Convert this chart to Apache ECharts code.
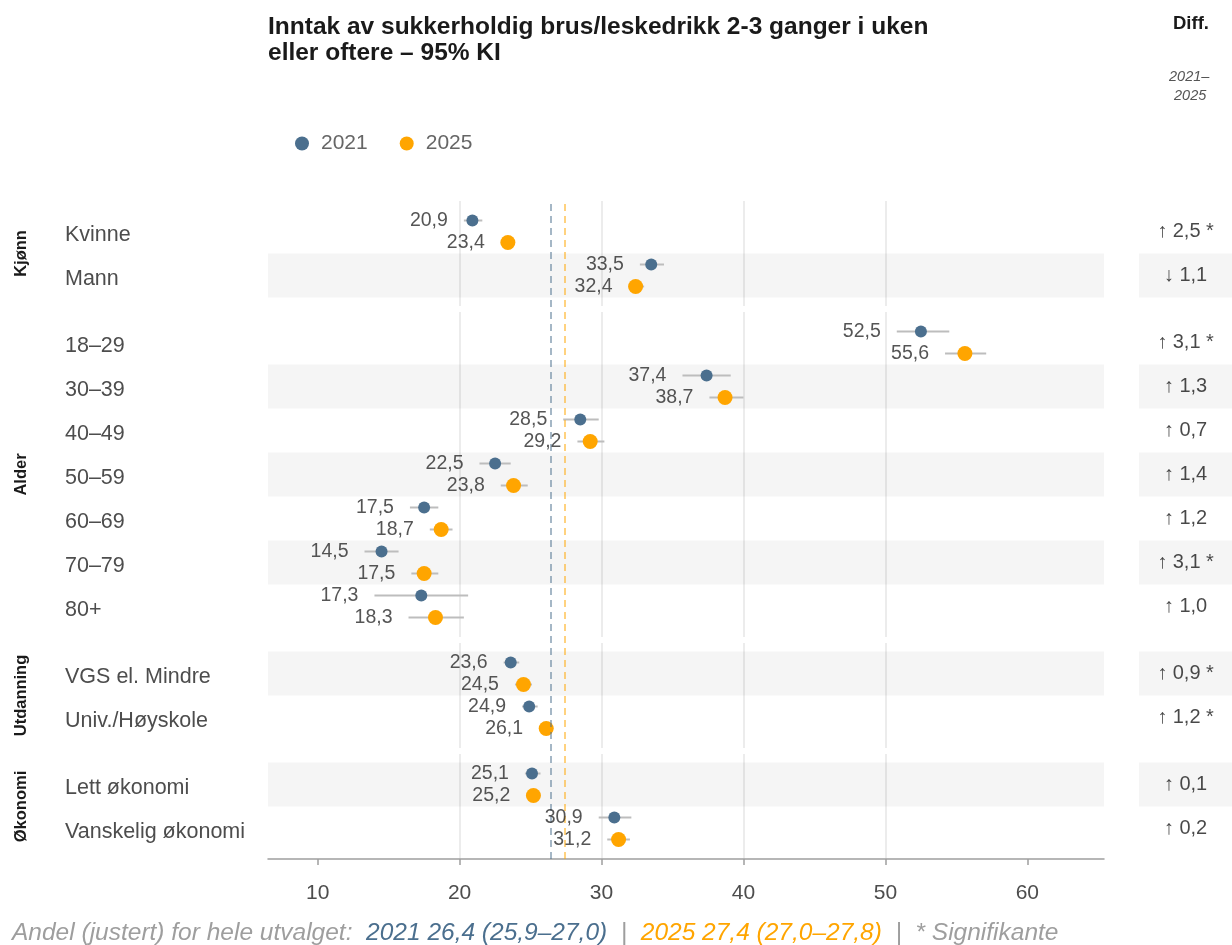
<!DOCTYPE html>
<html>
<head>
<meta charset="utf-8">
<script src="https://cdn.jsdelivr.net/npm/echarts@6/dist/echarts.min.js"></script>
<style>
  html, body { margin: 0; padding: 0; background: #fff; }
  #main { width: 1232px; height: 945px; }
</style>
</head>
<body>
<div id="main"></div>
<script>
// grupper og kategorier
var groups = ['Kjønn', 'Alder', 'Utdanning', 'Økonomi'];
var groupCats = [
    ['Kvinne', 'Mann'],
    ['18–29', '30–39', '40–49', '50–59', '60–69', '70–79', '80+'],
    ['VGS el. Mindre', 'Univ./Høyskole'],
    ['Lett økonomi', 'Vanskelig økonomi']
];
// rader med grå bakgrunn (indeks innen gruppen)
var shadedRows = [[1], [1, 3, 5], [0], [0]];

// andeler og 95% KI, alle rader i rekkefølge
var val2021 = [20.9, 33.5, 52.5, 37.4, 28.5, 22.5, 17.5, 14.5, 17.3, 23.6, 24.9, 25.1, 30.9];
var lo2021  = [20.3, 32.7, 50.8, 35.7, 27.3, 21.4, 16.5, 13.3, 14.0, 23.1, 24.4, 24.6, 29.8];
var hi2021  = [21.6, 34.4, 54.5, 39.1, 29.8, 23.6, 18.5, 15.7, 20.6, 24.2, 25.5, 25.7, 32.1];
var val2025 = [23.4, 32.4, 55.6, 38.7, 29.2, 23.8, 18.7, 17.5, 18.3, 24.5, 26.1, 25.2, 31.2];
var lo2025  = [22.9, 31.9, 54.2, 37.6, 28.3, 22.9, 17.9, 16.6, 16.4, 23.9, 25.6, 24.7, 30.4];
var hi2025  = [23.9, 33.0, 57.1, 40.0, 30.2, 24.8, 19.5, 18.5, 20.3, 25.1, 26.6, 25.7, 32.0];
var diffVals = [2.5, -1.1, 3.1, 1.3, 0.7, 1.4, 1.2, 3.1, 1.0, 0.9, 1.2, 0.1, 0.2];
var diffSig  = [1, 0, 1, 0, 0, 0, 0, 1, 0, 1, 1, 0, 0];

// hele utvalget (referanselinjer)
var total2021 = 26.4, total2025 = 27.4;
var xTicks = [10, 20, 30, 40, 50, 60];

var C21 = '#4b6f8e', C25 = '#ffa500';
var FONT = 'Liberation Sans, Arial, sans-serif';

function fmt(v) { return v.toFixed(1).replace('.', ','); }

var myChart = echarts.init(document.getElementById('main'));

var rowH = 44, pad = 8.5, gap = 6, top0 = 201;
var mainLeft = 268, mainRight = 1104, diffLeft = 1139;
var xMin = 6.5, xMax = 65.4;

var grid = [], xAxis = [], yAxis = [], series = [];
var panelTop = top0, offset = 0;

groups.forEach(function (g, gi) {
    var cats = groupCats[gi];
    var n = cats.length;
    var h = n * rowH + 2 * pad;
    var last = gi === groups.length - 1;
    var yMin = -0.5 - pad / rowH, yMax = n - 0.5 + pad / rowH;
    var rows = cats.map(function (c, i) { return i; });
    var off = offset;

    // hovedpanel
    var mi = grid.length;
    grid.push({ left: mainLeft, width: mainRight - mainLeft, top: panelTop, height: h });
    xAxis.push({
        type: 'value', gridIndex: mi, min: xMin, max: xMax,
        axisLine: { show: last, onZero: false, lineStyle: { color: '#9e9e9e', width: 1.5 } },
        axisTick: { show: last, length: 6, customValues: xTicks, lineStyle: { color: '#9e9e9e', width: 1.5 } },
        axisLabel: { show: last, customValues: xTicks, fontSize: 21, color: '#4d4d4d', margin: 24, fontFamily: FONT },
        splitLine: { show: true, showMinLine: false, showMaxLine: false, lineStyle: { color: '#e6e6e6', width: 1.5 } }
    });
    yAxis.push({
        type: 'value', gridIndex: mi, inverse: true, min: yMin, max: yMax,
        name: g, nameLocation: 'middle', nameRotate: 90, nameGap: 238,
        nameTextStyle: { fontSize: 16.5, fontWeight: 'bold', color: '#1a1a1a', fontFamily: FONT },
        axisLine: { show: false }, axisTick: { show: false }, splitLine: { show: false },
        axisLabel: {
            // litt under radens midtlinje, som i originalen
            customValues: rows.map(function (i) { return i + 0.08; }),
            align: 'left', margin: 203, fontSize: 21.5, color: '#4d4d4d', fontFamily: FONT,
            formatter: function (v) { return cats[Math.round(v)]; }
        }
    });

    // diff-panel
    var di = grid.length;
    grid.push({ left: diffLeft, right: 0, top: panelTop, height: h });
    xAxis.push({ type: 'value', gridIndex: di, min: 0, max: 1, show: false });
    yAxis.push({ type: 'value', gridIndex: di, inverse: true, min: yMin, max: yMax, show: false });

    var bands = shadedRows[gi].map(function (i) {
        return [{ yAxis: i - 0.5 }, { yAxis: i + 0.5 }];
    });

    series.push({
        type: 'scatter', xAxisIndex: mi, yAxisIndex: mi, data: [], silent: true, z: 1,
        markArea: { silent: true, itemStyle: { color: 'rgba(0,0,0,0.04)' }, data: bands }
    });
    series.push({
        type: 'scatter', xAxisIndex: di, yAxisIndex: di, data: [], silent: true, z: 1,
        markArea: { silent: true, itemStyle: { color: 'rgba(0,0,0,0.04)' }, data: bands }
    });

    [[val2021, lo2021, hi2021, '2021', C21, 12, -0.25], [val2025, lo2025, hi2025, '2025', C25, 15, 0.25]].forEach(function (s) {
        var vals = s[0], los = s[1], his = s[2];
        series.push({
            type: 'custom', xAxisIndex: mi, yAxisIndex: mi, z: 3, silent: true,
            encode: { x: [0, 1], y: 2 },
            renderItem: function (params, api) {
                var a = api.coord([api.value(0), api.value(2)]);
                var b = api.coord([api.value(1), api.value(2)]);
                return { type: 'line', shape: { x1: a[0], y1: a[1], x2: b[0], y2: b[1] },
                         style: { stroke: '#bdbdbd', lineWidth: 2 } };
            },
            data: rows.map(function (i) { return [los[off + i], his[off + i], i + s[6]]; })
        });
        series.push({
            name: s[3], type: 'scatter', xAxisIndex: mi, yAxisIndex: mi, z: 4,
            symbolSize: s[5], itemStyle: { color: s[4], opacity: 1 },
            data: rows.map(function (i) { return [vals[off + i], i + s[6]]; })
        });
        series.push({
            type: 'scatter', xAxisIndex: mi, yAxisIndex: mi, z: 5, silent: true,
            symbolSize: 0,
            label: {
                show: true, position: 'left', distance: 16, fontSize: 19.5, color: '#2b2b2b', fontFamily: FONT,
                formatter: function (p) { return fmt(p.value[2]); }
            },
            data: rows.map(function (i) { return [los[off + i], i + s[6], vals[off + i]]; })
        });
    });

    series.push({
        type: 'scatter', xAxisIndex: di, yAxisIndex: di, z: 5, silent: true,
        symbolSize: 0,
        label: {
            show: true, position: 'inside', fontSize: 20, color: '#1a1a1a', fontFamily: FONT,
            formatter: function (p) {
                var d = p.value[2];
                return (d >= 0 ? '↑ ' : '↓ ') + fmt(Math.abs(d)) + (p.value[3] ? ' *' : '');
            }
        },
        data: rows.map(function (i) { return [0.5, i, diffVals[off + i], diffSig[off + i]]; })
    });

    panelTop += h + gap;
    offset += n;
});

// referanselinjer over alle paneler
var refIdx = grid.length;
grid.push({ left: mainLeft, width: mainRight - mainLeft, top: top0, height: panelTop - gap - top0 });
xAxis.push({ type: 'value', gridIndex: refIdx, min: xMin, max: xMax, show: false });
yAxis.push({ type: 'value', gridIndex: refIdx, min: 0, max: 1, show: false });
series.push({
    type: 'scatter', xAxisIndex: refIdx, yAxisIndex: refIdx, data: [], silent: true, z: 2,
    markLine: {
        silent: true, symbol: 'none', label: { show: false },
        data: [
            { xAxis: total2021, lineStyle: { color: C21, opacity: 0.5, type: [7, 5], width: 2 } },
            { xAxis: total2025, lineStyle: { color: C25, opacity: 0.5, type: [7, 5], width: 2 } }
        ]
    }
});

var option = {
    animation: false,
    backgroundColor: '#fff',
    textStyle: { fontFamily: FONT },
    title: {
        text: 'Inntak av sukkerholdig brus/leskedrikk 2-3 ganger i uken\neller oftere – 95% KI',
        left: 268, top: 14, padding: 0,
        textStyle: { fontSize: 24.5, fontWeight: 'bold', color: '#1a1a1a', lineHeight: 26, fontFamily: FONT }
    },
    legend: {
        data: ['2021', '2025'], left: 290, top: 128,
        itemWidth: 28, itemHeight: 14, itemGap: 32, icon: 'circle',
        textStyle: { fontSize: 21, color: '#666', fontFamily: FONT }
    },
    grid: grid, xAxis: xAxis, yAxis: yAxis, series: series,
    graphic: [
        { type: 'text', left: 1173, top: 14,
          style: { text: 'Diff.', fontSize: 18.5, fontWeight: 'bold', fill: '#1a1a1a', fontFamily: FONT } },
        { type: 'text', left: 1169, top: 69,
          style: { text: '2021–', fontSize: 14.5, fontStyle: 'italic', fill: '#555', fontFamily: FONT } },
        { type: 'text', left: 1174, top: 88,
          style: { text: '2025', fontSize: 14.5, fontStyle: 'italic', fill: '#555', fontFamily: FONT } },
        { type: 'text', left: 12, top: 921,
          style: {
              text: '{g|Andel (justert) for hele utvalget:  }{b|2021 26,4 (25,9–27,0)}{g|  |  }{o|2025 27,4 (27,0–27,8)}{g|  |  * Signifikante}',
              fontFamily: FONT,
              rich: {
                  g: { fontSize: 24.5, fontStyle: 'italic', fill: '#9e9e9e', fontFamily: FONT },
                  b: { fontSize: 24.5, fontStyle: 'italic', fill: C21, fontFamily: FONT },
                  o: { fontSize: 24.5, fontStyle: 'italic', fill: C25, fontFamily: FONT }
              }
          } }
    ]
};

myChart.setOption(option);
</script>
</body>
</html>
